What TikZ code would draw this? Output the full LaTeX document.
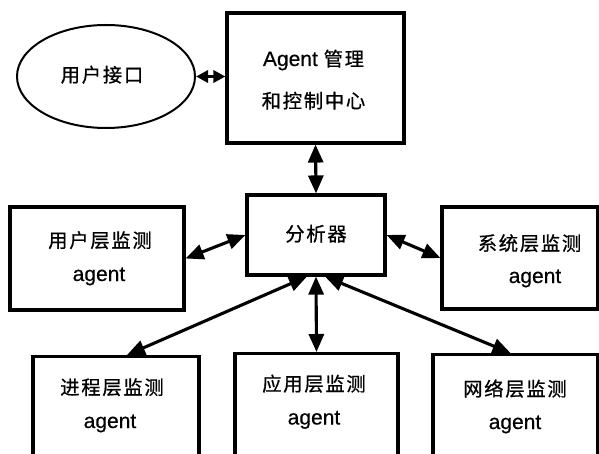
\documentclass[tikz,border=0pt]{standalone}
\usepackage{fontspec}
\setmainfont[FakeBold=0.4]{Liberation Sans}
\newfontfamily\cjk[LetterSpace=9,FakeBold=0.8]{Noto Sans CJK SC}
\usetikzlibrary{shapes.geometric,arrows.meta,calc}
\tikzset{
  boxnode/.style={draw=black, line width=3.1pt, rectangle, inner sep=0pt},
  ellnode/.style={draw=black, line width=2pt, ellipse, inner sep=0pt},
  txt/.style={anchor=base, inner sep=0pt, font=\fontsize{21}{24}\selectfont},
  ctxt/.style={anchor=base, inner sep=0pt, font=\fontsize{19.3}{24}\cjk},
  arr/.style={line width=3.1pt, {Triangle[length=18pt,width=15pt]}-{Triangle[length=18pt,width=15pt]}},
  sarr/.style={line width=3pt, {Triangle[length=12pt,width=12pt]}-{Triangle[length=12pt,width=12pt]}}
}
\begin{document}
\begin{tikzpicture}[x=1pt,y=-1pt]
\useasboundingbox (0,0) rectangle (599,454);
\fill[white] (0,0) rectangle (599,454);
\clip (0,0) rectangle (599,454);

% shapes
\node[ellnode, minimum width=178pt, minimum height=103pt] (ell) at (106,76.5) {};
\node[boxnode, minimum width=177pt, minimum height=130pt] (top) at (315.5,78) {};
\node[boxnode, minimum width=138pt, minimum height=80pt] (ana) at (316,235) {};
\node[boxnode, minimum width=174pt, minimum height=103pt] (user) at (97,258.5) {};
\node[boxnode, minimum width=156pt, minimum height=102pt] (sys) at (520,258) {};
\node[boxnode, anchor=north, minimum width=166pt, minimum height=130pt] (proc) at (116,355) {};
\node[boxnode, anchor=north, minimum width=163pt, minimum height=130pt] (app) at (316.5,352) {};
\node[boxnode, anchor=north, minimum width=165pt, minimum height=130pt] (net) at (515.5,353) {};

% texts
\node[ctxt] (ellt) at (102,82) {用户接口};
\node[txt] (topt1) at (313.5,66) {Agent {\cjk\fontsize{19.3}{24}\selectfont 管理}};
\node[ctxt] (topt2) at (313.5,108) {和控制中心};
\node[ctxt] (anat) at (316,241) {分析器};
\node[ctxt] (usert1) at (100,247.5) {用户层监测};
\node[txt] (usert2) at (99,281) {agent};
\node[ctxt] (syst1) at (529.5,250.5) {系统层监测};
\node[txt] (syst2) at (535,283) {agent};
\node[ctxt] (proct1) at (112,394.5) {进程层监测};
\node[txt] (proct2) at (110,428) {agent};
\node[ctxt] (appt1) at (314,391) {应用层监测};
\node[txt] (appt2) at (314,424.5) {agent};
\node[ctxt] (nett1) at (515,396) {网络层监测};
\node[txt] (nett2) at (515,429) {agent};

% connectors
\draw[sarr] (ell.east) -- (ell.east -| top.west);
\draw[arr] (top.south) -- (ana.north);
\draw[arr] (user.east) -- (ana.west);
\draw[arr] (ana.east) -- (sys.west);
\draw[arr] ($(ana.south)+(-9,0)$) -- ($(proc.north)+(11,0)$);
\draw[arr] (ana.south) -- (app.north);
\draw[arr] ($(ana.south)+(9,0)$) -- ($(net.north)+(-5,0)$);
\end{tikzpicture}
\end{document}
